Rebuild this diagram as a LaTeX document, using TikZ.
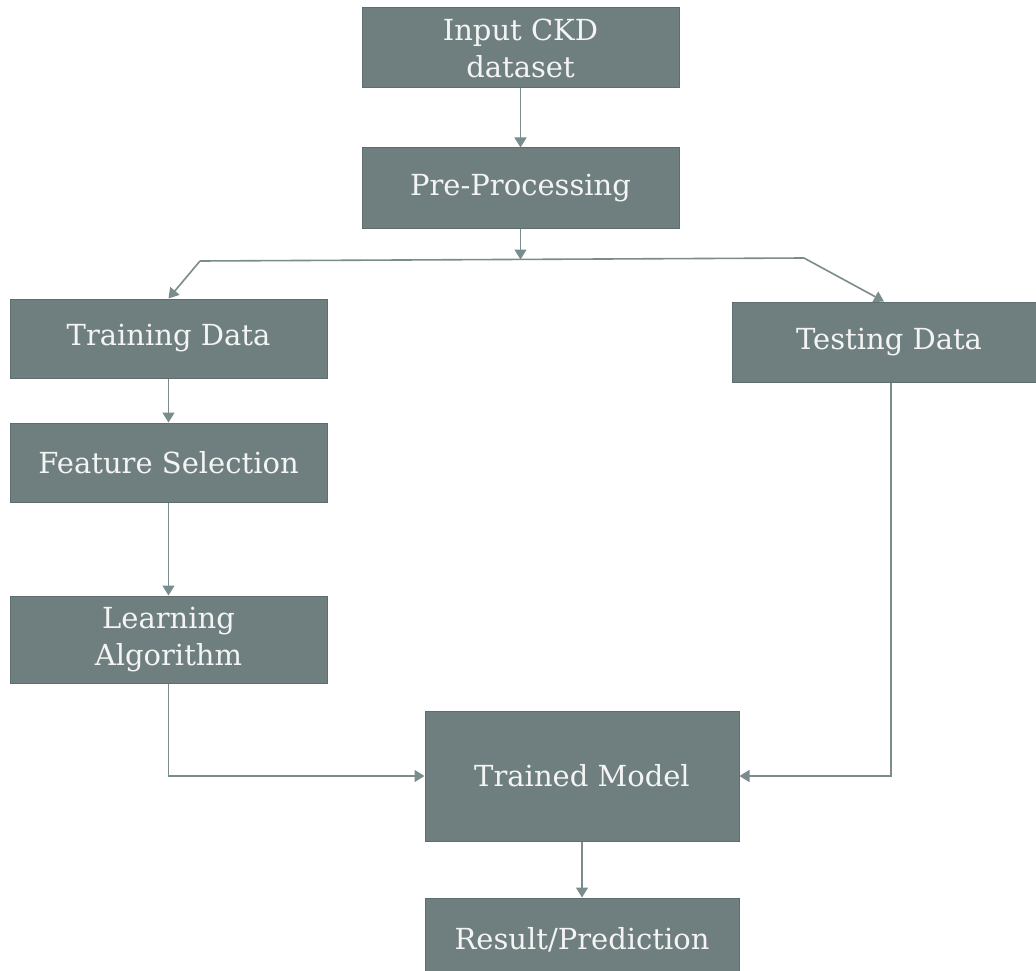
\documentclass[tikz,border=0pt]{standalone}
\usepackage{fontspec}
\setmainfont{DejaVu Serif}
\usetikzlibrary{arrows.meta,calc}
\definecolor{boxfill}{HTML}{6F7F7F}
\definecolor{boxedge}{HTML}{5E6E6E}
\definecolor{linec}{HTML}{7A8C8C}
\definecolor{txt}{HTML}{F4F4F4}
\tikzset{
  blk/.style={rectangle, fill=boxfill, draw=boxedge, line width=1pt, inner sep=0pt,
    text=txt, align=center, font=\fontsize{29}{37}\selectfont},
  conn/.style={draw=linec, line width=1.6pt},
  arr/.style={conn, -{Triangle[width=12pt,length=10pt]}, color=linec}
}
\begin{document}
\begin{tikzpicture}[x=1pt,y=-1pt]
\path[use as bounding box, clip] (0,0) rectangle (1036,971);
\fill[white] (0,0) rectangle (1036,971);
\node[blk, minimum width=317pt, minimum height=80pt] (in) at (520.5,48) {Input CKD\\dataset};
\node[blk, minimum width=317pt, minimum height=80pt] (pre) at (520.5,188) {Pre-Processing};
\node[blk, minimum width=317pt, minimum height=79pt] (train) at (168.5,338.5) {Training Data};
\node[blk, minimum width=314pt, minimum height=80pt] (test) at (889,342) {Testing Data};
\node[blk, minimum width=317pt, minimum height=79pt] (feat) at (168.5,462.5) {Feature Selection};
\node[blk, minimum width=317pt, minimum height=87pt] (learn) at (168.5,639.5) {Learning\\Algorithm};
\node[blk, minimum width=314pt, minimum height=130pt] (model) at (582,776) {Trained Model};
\node[blk, minimum width=314pt, minimum height=92pt] (res) at (582,944) {\raisebox{12pt}{Result/Prediction}};
\coordinate (split) at (520.5,259.5);
\coordinate (jl) at (200,261);
\coordinate (jr) at (804,258);
\draw[arr] (in) -- (pre);
\draw[arr] (pre) -- (split);
\draw[conn] (jl) -- (jr);
\draw[arr] (jl) -- (train.north);
\draw[arr] (jr) -- ([xshift=-5pt]test.north);
\draw[arr] (train) -- (feat);
\draw[arr] (feat) -- (learn);
\draw[arr] (learn.south) |- (model.west);
\draw[arr] ([xshift=2pt]test.south) |- (model.east);
\draw[arr] (model) -- (res);
\end{tikzpicture}
\end{document}
